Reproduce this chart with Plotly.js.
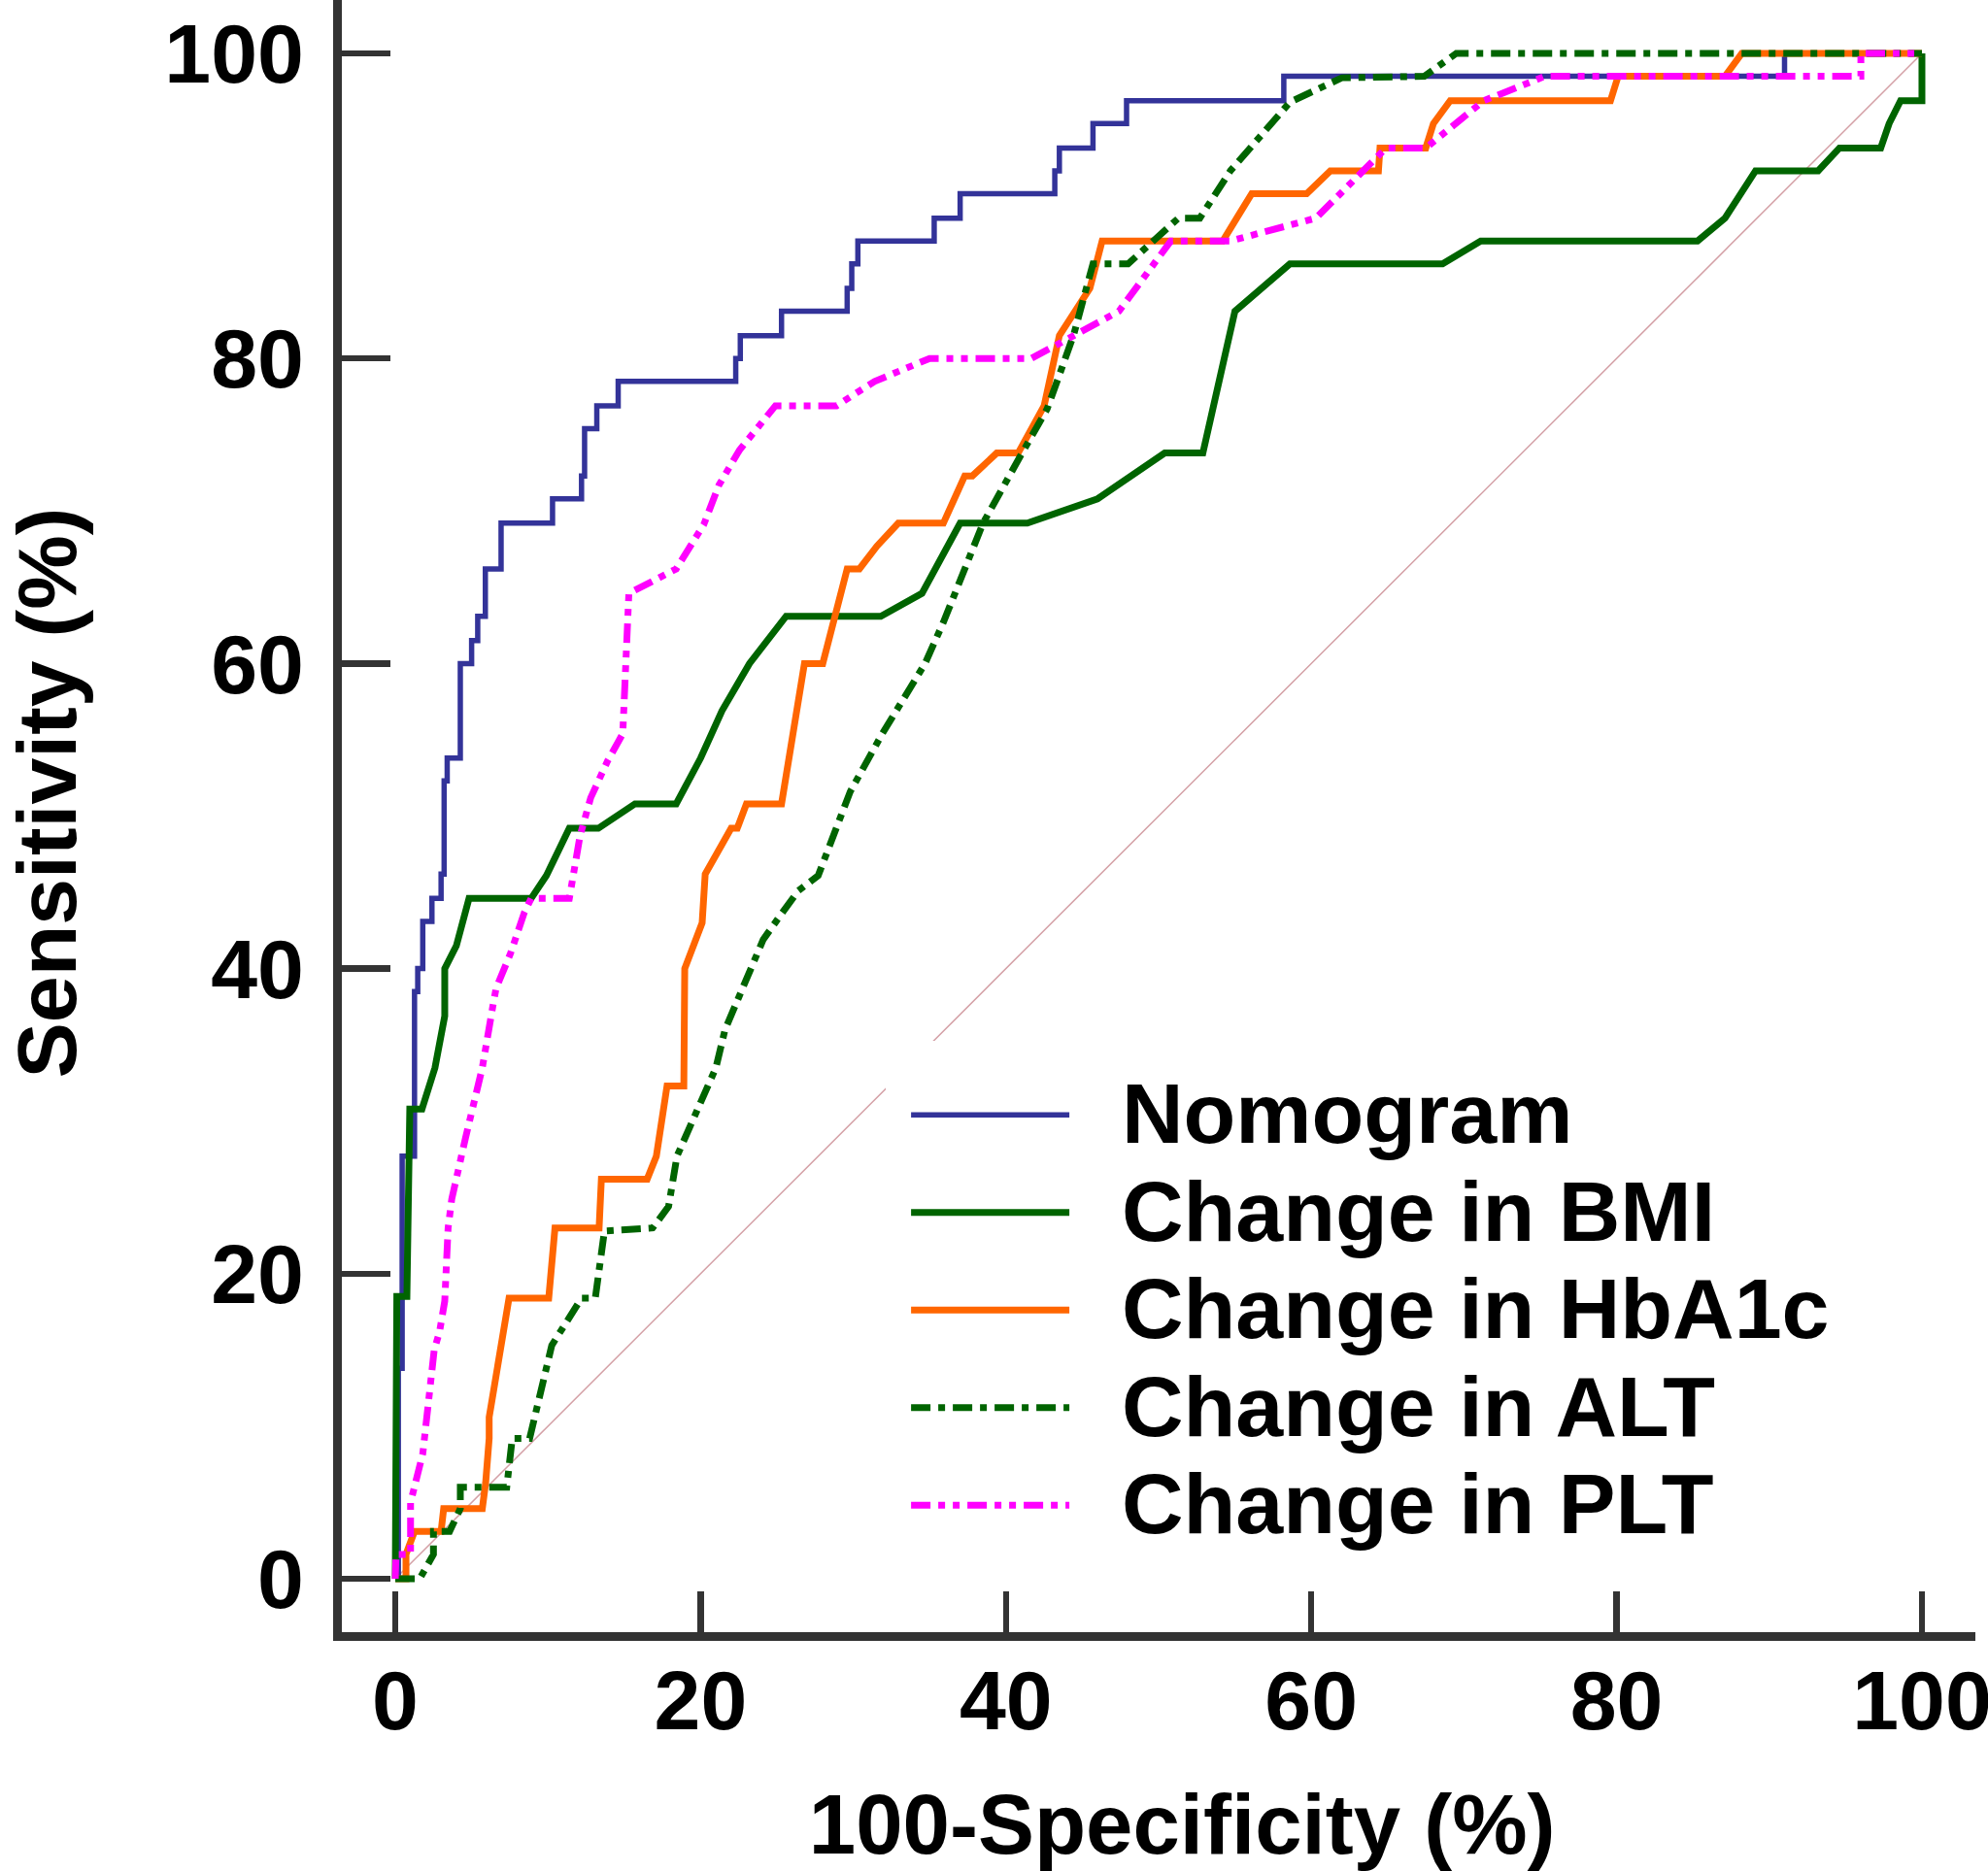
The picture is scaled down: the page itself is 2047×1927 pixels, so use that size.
<!DOCTYPE html>
<html>
<head>
<meta charset="utf-8">
<script src="https://cdn.plot.ly/plotly-3.0.1.min.js"></script>
<style>html,body{margin:0;padding:0;background:#fff;}#chart{width:2047px;height:1927px;}</style>
</head>
<body>
<div id="chart"></div>
<script>
// ---- Data (100-Specificity %, Sensitivity %) ----
var nomogramX = [0, 0.2, 0.45, 1.26, 1.47, 1.8, 2.4, 3.0, 3.2, 3.4, 4.26, 5.0, 5.4, 5.9, 6.93, 10.3, 12.2, 12.4, 13.2, 14.6, 22.3, 22.6, 25.3, 29.6, 29.9, 30.3, 35.3, 37.0, 43.2, 43.5, 45.7, 47.9, 58.2, 91.0, 100];
var nomogramY = [0, 0, 13.8, 27.7, 38.5, 40.0, 43.1, 44.6, 46.2, 52.3, 53.8, 60.0, 61.5, 63.1, 66.2, 69.2, 70.8, 72.3, 75.4, 76.9, 78.5, 80.0, 81.5, 83.1, 84.6, 86.2, 87.7, 89.2, 90.8, 92.3, 93.8, 95.4, 96.9, 98.5, 100];

var bmiX = [0, 0, 0.1, 0.76, 0.8, 0.95, 1.75, 2.6, 3.24, 3.24, 4.0, 4.83, 8.9, 9.9, 11.4, 13.3, 15.7, 18.4, 20.0, 21.4, 23.2, 25.6, 31.8, 34.5, 37.0, 41.4, 46.0, 50.4, 52.9, 55.0, 58.6, 68.6, 71.1, 85.3, 87.1, 89.1, 93.2, 94.6, 97.3, 97.85, 98.6, 100, 100];
var bmiY = [0, 16.8, 18.5, 18.5, 23.0, 30.8, 30.8, 33.5, 36.9, 40.0, 41.5, 44.6, 44.6, 46.1, 49.2, 49.2, 50.8, 50.8, 53.8, 56.9, 60.0, 63.1, 63.1, 64.6, 69.2, 69.2, 70.8, 73.8, 73.8, 83.1, 86.2, 86.2, 87.7, 87.7, 89.2, 92.3, 92.3, 93.8, 93.8, 95.4, 96.9, 96.9, 100];

var hba1cX = [0, 0.7, 0.7, 1.26, 3.0, 3.17, 5.7, 5.92, 6.15, 6.15, 7.45, 10.05, 10.46, 13.35, 13.5, 16.5, 17.1, 17.8, 18.9, 18.9, 18.96, 20.1, 20.3, 22.0, 22.4, 23.0, 25.3, 26.8, 28.0, 29.6, 30.4, 31.55, 32.95, 35.9, 37.3, 37.8, 39.4, 40.8, 42.5, 43.5, 45.5, 46.3, 54.2, 56.1, 59.7, 61.25, 64.4, 64.5, 67.5, 68.0, 69.1, 79.6, 80.1, 87.1, 88.2, 100];
var hba1cY = [0, 0, 1.6, 3.1, 3.1, 4.6, 4.6, 6.3, 9.2, 10.6, 18.4, 18.4, 23.0, 23.0, 26.2, 26.2, 27.7, 32.3, 32.3, 35.3, 40.0, 43.0, 46.2, 49.2, 49.2, 50.8, 50.8, 60.0, 60.0, 66.2, 66.2, 67.7, 69.2, 69.2, 72.3, 72.3, 73.8, 73.8, 76.9, 81.5, 84.6, 87.7, 87.7, 90.8, 90.8, 92.3, 92.3, 93.8, 93.8, 95.4, 96.9, 96.9, 98.5, 98.5, 100, 100];

var altX = [0, 1.6, 2.5, 2.5, 3.56, 4.26, 4.26, 7.3, 7.66, 8.8, 10.25, 12.2, 13.1, 13.7, 16.86, 17.9, 18.45, 21.0, 21.6, 22.8, 24.1, 25.3, 26.4, 27.7, 28.7, 29.8, 31.9, 33.5, 34.7, 35.9, 37.4, 38.5, 41.0, 42.7, 43.6, 44.45, 45.7, 48.0, 51.3, 52.7, 54.7, 58.6, 62.0, 67.4, 69.5, 100];
var altY = [0, 0, 1.6, 3.1, 3.1, 4.6, 6.0, 6.0, 9.2, 9.2, 15.3, 18.4, 18.4, 22.8, 23.0, 24.4, 27.7, 33.5, 36.0, 38.9, 41.9, 43.6, 45.1, 46.1, 48.7, 51.6, 55.4, 58.1, 60.0, 62.7, 66.4, 69.2, 73.7, 76.7, 79.2, 81.6, 86.2, 86.2, 89.2, 89.2, 92.3, 96.8, 98.4, 98.5, 100, 100];

var pltX = [0, 0.05, 1.0, 1.0, 1.8, 2.3, 2.55, 2.9, 3.24, 3.46, 3.7, 4.6, 5.7, 6.4, 6.6, 7.55, 8.46, 8.9, 11.4, 12.1, 12.8, 13.9, 14.9, 15.3, 18.4, 20.2, 21.2, 22.55, 24.9, 28.9, 31.4, 35.0, 41.65, 44.45, 47.4, 50.8, 54.7, 60.3, 64.9, 67.5, 71.3, 75.3, 96.0, 96.0, 100];
var pltY = [0, 1.6, 1.6, 5.0, 8.2, 12.3, 15.0, 16.2, 18.2, 23.0, 24.9, 28.9, 33.5, 37.6, 38.7, 41.0, 43.7, 44.6, 44.6, 48.7, 51.2, 53.6, 55.4, 64.6, 66.2, 69.1, 71.7, 74.0, 76.9, 76.9, 78.5, 80.0, 80.0, 81.5, 83.1, 87.7, 87.7, 89.2, 93.8, 93.8, 96.9, 98.5, 98.5, 100, 100];

var refX = [0, 100];
var refY = [0, 100];

var seriesNames = ["Nomogram", "Change in BMI", "Change in HbA1c", "Change in ALT", "Change in PLT"];
var tickValues = [0, 20, 40, 60, 80, 100];
var xTitle = "100-Specificity (%)";
var yTitle = "Sensitivity (%)";

// ---- Styling ----
var FONT = "Liberation Sans, Arial, Helvetica, sans-serif";
var AXC = "#333333";
var PAD2 = "\u00a0\u00a0";
function legendName(s) {
  return '<span style="font-size:88px">' + PAD2 + s + '</span>';
}
function padTitle(s) {
  return '<span>' + PAD2 + '</span>' + s;
}

var traces = [
  {x: refX, y: refY, mode: "lines", showlegend: false, hoverinfo: "skip",
   line: {color: "rgb(212,160,166)", width: 1.5}},
  {x: nomogramX, y: nomogramY, mode: "lines", name: legendName(seriesNames[0]),
   line: {color: "#333399", width: 5.5, shape: "vh"}},
  {x: bmiX, y: bmiY, mode: "lines", name: legendName(seriesNames[1]),
   line: {color: "#006400", width: 7}},
  {x: hba1cX, y: hba1cY, mode: "lines", name: legendName(seriesNames[2]),
   line: {color: "#FF6600", width: 7}},
  {x: altX, y: altY, mode: "lines", name: legendName(seriesNames[3]),
   line: {color: "#006400", width: 7, dash: "20px,8px,7px,8px"}},
  {x: pltX, y: pltY, mode: "lines", name: legendName(seriesNames[4]),
   line: {color: "#FF00FF", width: 7, dash: "20px,8px,7px,8px,7px,8px"}}
];

var axisCommon = {
  range: [-3.5, 103.5],
  showgrid: false, zeroline: false,
  showline: true, linecolor: AXC, linewidth: 9,
  ticks: "inside", tickcolor: AXC, tickwidth: 6.5,
  tickmode: "array", tickvals: tickValues,
  tickfont: {family: FONT, size: 86, color: "#000", weight: 700},
  fixedrange: true
};

var layout = {
  width: 2047, height: 1927,
  margin: {l: 352, r: 13, t: 0, b: 246, pad: 0},
  paper_bgcolor: "#fff", plot_bgcolor: "#fff",
  showlegend: true,
  xaxis: Object.assign({}, axisCommon, {
    ticklen: 42, ticklabelstandoff: -12, ticklabeloverflow: "allow",
    title: {text: padTitle(xTitle), font: {family: FONT, size: 87, color: "#000", weight: 700}, standoff: 82}
  }),
  yaxis: Object.assign({}, axisCommon, {
    ticklen: 50, ticklabelstandoff: 13,
    title: {text: padTitle(yTitle), font: {family: FONT, size: 86, color: "#000", weight: 700}, standoff: 106}
  }),
  legend: {
    x: 0.333, y: 0.3623, xanchor: "left", yanchor: "top",
    bgcolor: "#fff", bordercolor: "#fff", borderwidth: 21,
    itemwidth: 163,
    font: {family: FONT, size: 75, color: "#000", weight: 700}
  }
};

Plotly.newPlot("chart", traces, layout, {displayModeBar: false, staticPlot: true});
</script>
</body>
</html>
